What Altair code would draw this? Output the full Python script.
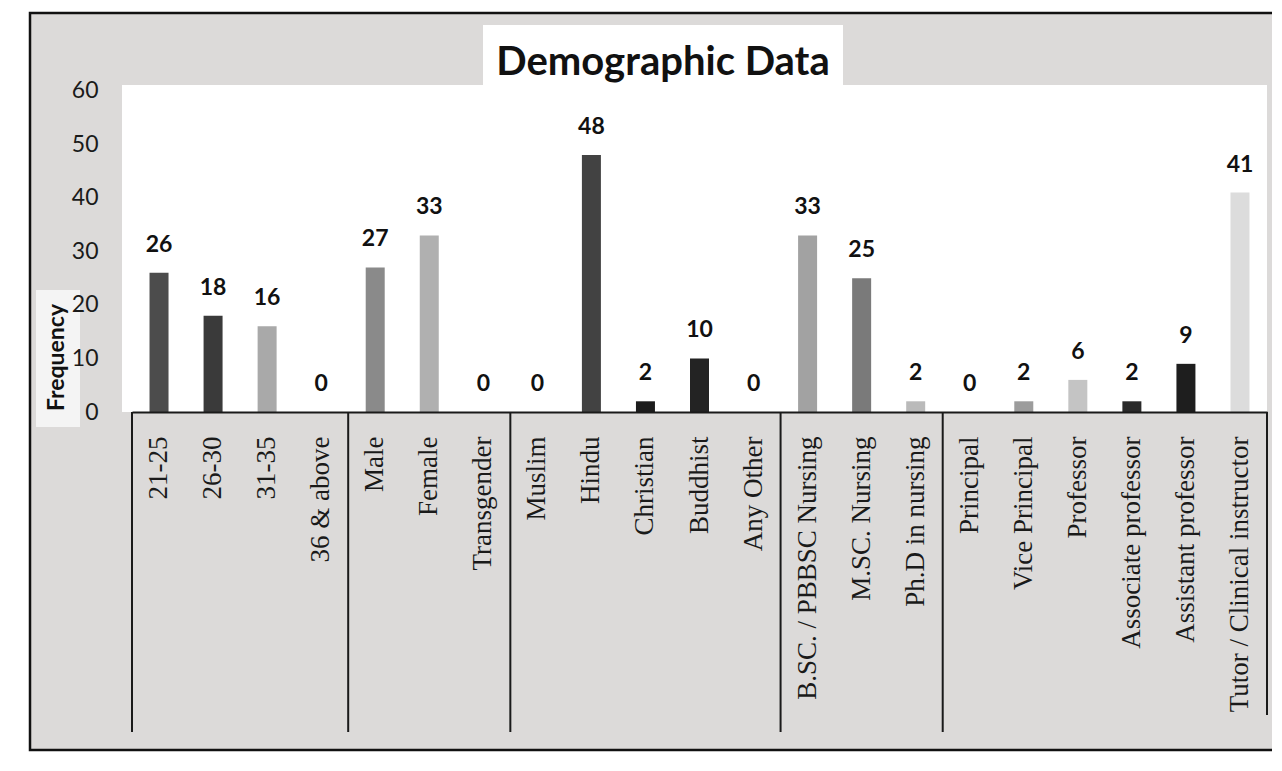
import altair as alt
import pandas as pd

categories = ["21-25", "26-30", "31-35", "36 & above", "Male", "Female", "Transgender",
              "Muslim", "Hindu", "Christian", "Buddhist", "Any Other",
              "B.SC. / PBBSC Nursing", "M.SC. Nursing", "Ph.D in nursing",
              "Principal", "Vice Principal", "Professor", "Associate professor",
              "Assistant professor", "Tutor / Clinical instructor"]
frequency = [26, 18, 16, 0, 27, 33, 0, 0, 48, 2, 10, 0, 33, 25, 2, 0, 2, 6, 2, 9, 41]
groups = ["Age"] * 4 + ["Gender"] * 3 + ["Religion"] * 5 + ["Qualification"] * 3 + ["Designation"] * 6
y_ticks = [0, 10, 20, 30, 40, 50, 60]
chart_title = ["Demographic Data"]

bar_colors = ["#4c4c4c", "#3a3a3a", "#a9a9a9", "#888888", "#8a8a8a", "#b0b0b0", "#888888",
              "#888888", "#424242", "#1c1c1c", "#232323", "#888888",
              "#a2a2a2", "#7a7a7a", "#bababa",
              "#888888", "#9c9c9c", "#c4c4c4", "#2a2a2a", "#1e1e1e", "#dcdcdc"]

df = pd.DataFrame({"category": categories, "frequency": frequency, "group": groups})
starts = [c for i, c in enumerate(categories) if i == 0 or groups[i] != groups[i - 1]]
sep_df = pd.DataFrame({"category": starts})
end_df = pd.DataFrame({"category": [categories[-1]]})
one = pd.DataFrame({"k": [0]})
title_df = pd.DataFrame({"t": chart_title})

W, H = 1135, 327

xscale = alt.Scale(domain=categories, paddingInner=0, paddingOuter=0)
yscale = alt.Scale(domain=[0, 61.1], nice=False)

ax_x = alt.Axis(title=None, labelAngle=-90, labelFont="Liberation Serif", labelFontSize=27,
                labelColor="#1a1a1a", labelPadding=24, ticks=False, domainColor="#1a1a1a",
                domainWidth=2, labelLimit=600, grid=False, zindex=1)
ax_y = alt.Axis(title="Frequency", values=y_ticks, labelFont="Lato", labelFontSize=23,
                labelColor="#1a1a1a", labelPadding=34, ticks=False, domain=False, grid=False,
                titleFont="Lato", titleFontSize=23, titleFontWeight="bold", titleColor="#111111",
                titleX=-76, titleY=272, titleAngle=270, titleAlign="center", titleBaseline="middle",
                zindex=1)

X = alt.X("category:N", scale=xscale, sort=categories, axis=ax_x)
Y = alt.Y("frequency:Q", scale=yscale, axis=ax_y)

frame = alt.Chart(one).mark_rect(fill="#dcdad9", stroke="#111111", strokeWidth=2.5).encode(
    x=alt.value(-102), x2=alt.value(1170), y=alt.value(-72), y2=alt.value(665))
white_plot = alt.Chart(one).mark_rect(fill="white").encode(
    x=alt.value(-10), x2=alt.value(W), y=alt.value(0), y2=alt.value(H))
white_title = alt.Chart(one).mark_rect(fill="white").encode(
    x=alt.value(351), x2=alt.value(711), y=alt.value(-60), y2=alt.value(0))
white_freq = alt.Chart(one).mark_rect(fill="#f4f4f4").encode(
    x=alt.value(-96), x2=alt.value(-52), y=alt.value(205), y2=alt.value(342))

title_mark = alt.Chart(title_df).mark_text(font="Lato", fontSize=40, fontWeight="bold",
                                           color="#111111", align="center",
                                           baseline="alphabetic").encode(
    x=alt.value(531), y=alt.value(-10), text="t:N")

bars = alt.Chart(df).mark_bar(size=19).encode(
    x=X, y=Y,
    color=alt.Color("category:N", scale=alt.Scale(domain=categories, range=bar_colors), legend=None))

labels = alt.Chart(df).mark_text(dy=-28, font="Lato", fontWeight="bold", fontSize=23,
                                 color="#111111", baseline="middle").encode(
    x=X, y=Y, text="frequency:Q")

seps = alt.Chart(sep_df).mark_rule(color="#1a1a1a", strokeWidth=2).encode(
    x=alt.X("category:N", scale=xscale, sort=categories, axis=ax_x, bandPosition=0),
    y=alt.value(H), y2=alt.value(647))
end_rule = alt.Chart(end_df).mark_rule(color="#1a1a1a", strokeWidth=2).encode(
    x=alt.X("category:N", scale=xscale, sort=categories, axis=ax_x, bandPosition=1),
    y=alt.value(H), y2=alt.value(630))

chart = alt.layer(frame, white_plot, white_title, white_freq, title_mark,
                  bars, labels, seps, end_rule).properties(
    width=W, height=H,
    autosize=alt.AutoSizeParams(type="none"),
    padding={"left": 124, "top": 77, "right": 5, "bottom": 346},
    background="white",
).configure_view(stroke=None)

chart.save("out.html", embed_options={"renderer": "svg", "actions": False})
